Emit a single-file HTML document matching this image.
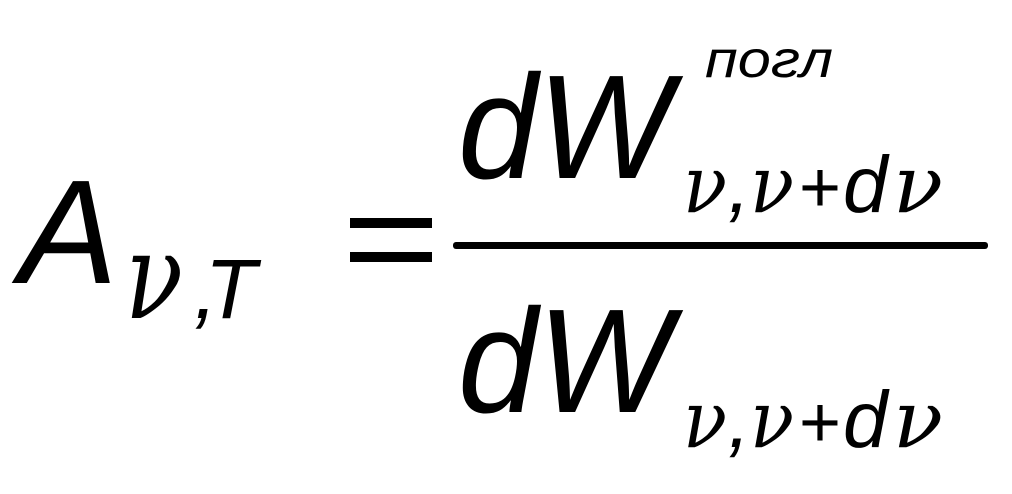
<!DOCTYPE html>
<html><head><meta charset="utf-8"><style>
html,body{margin:0;padding:0;background:#fff;}
svg{display:block}
.s{font-family:"Liberation Sans",sans-serif;font-style:italic;fill:#000}
.n{font-family:"DejaVu Serif",serif;font-style:italic;fill:#000}
.u{font-family:"Liberation Sans",sans-serif;fill:#000}
</style></head><body>
<svg width="1012" height="494" viewBox="0 0 1012 494" xmlns="http://www.w3.org/2000/svg">
<text class="s" x="19" y="283" font-size="148">A</text>
<text class="n" x="125" y="318" font-size="120" textLength="58" lengthAdjust="spacingAndGlyphs">ν</text>
<text class="s" x="194" y="318" font-size="84">,</text>
<text class="s" x="205" y="318" font-size="84">T</text>
<rect x="350" y="218" width="82" height="10" fill="#000"/>
<rect x="350" y="252" width="82" height="10" fill="#000"/>
<rect x="453" y="242" width="535" height="7" rx="3" fill="#000"/>
<text class="s" x="705" y="77" font-size="52" textLength="128" lengthAdjust="spacingAndGlyphs">погл</text>
<g>
<text class="s" x="458" y="178" font-size="148" textLength="214" lengthAdjust="spacingAndGlyphs">dW</text>
<text class="n" x="683" y="212" font-size="80" textLength="44" lengthAdjust="spacingAndGlyphs">ν</text>
<text class="s" x="728" y="212" font-size="80">,</text>
<text class="n" x="750" y="212" font-size="80" textLength="44" lengthAdjust="spacingAndGlyphs">ν</text>
<text class="u" x="799" y="212" font-size="72" textLength="42" lengthAdjust="spacingAndGlyphs">+</text>
<text class="s" x="843" y="212" font-size="80">d</text>
<text class="n" x="893" y="212" font-size="80" textLength="50" lengthAdjust="spacingAndGlyphs">ν</text>
</g>
<g transform="translate(0,235)">
<text class="s" x="458" y="177" font-size="148" textLength="214" lengthAdjust="spacingAndGlyphs">dW</text>
<text class="n" x="683" y="212" font-size="80" textLength="44" lengthAdjust="spacingAndGlyphs">ν</text>
<text class="s" x="728" y="212" font-size="80">,</text>
<text class="n" x="750" y="212" font-size="80" textLength="44" lengthAdjust="spacingAndGlyphs">ν</text>
<text class="u" x="799" y="212" font-size="72" textLength="42" lengthAdjust="spacingAndGlyphs">+</text>
<text class="s" x="843" y="212" font-size="80">d</text>
<text class="n" x="893" y="212" font-size="80" textLength="50" lengthAdjust="spacingAndGlyphs">ν</text>
</g>
</svg>
</body></html>
